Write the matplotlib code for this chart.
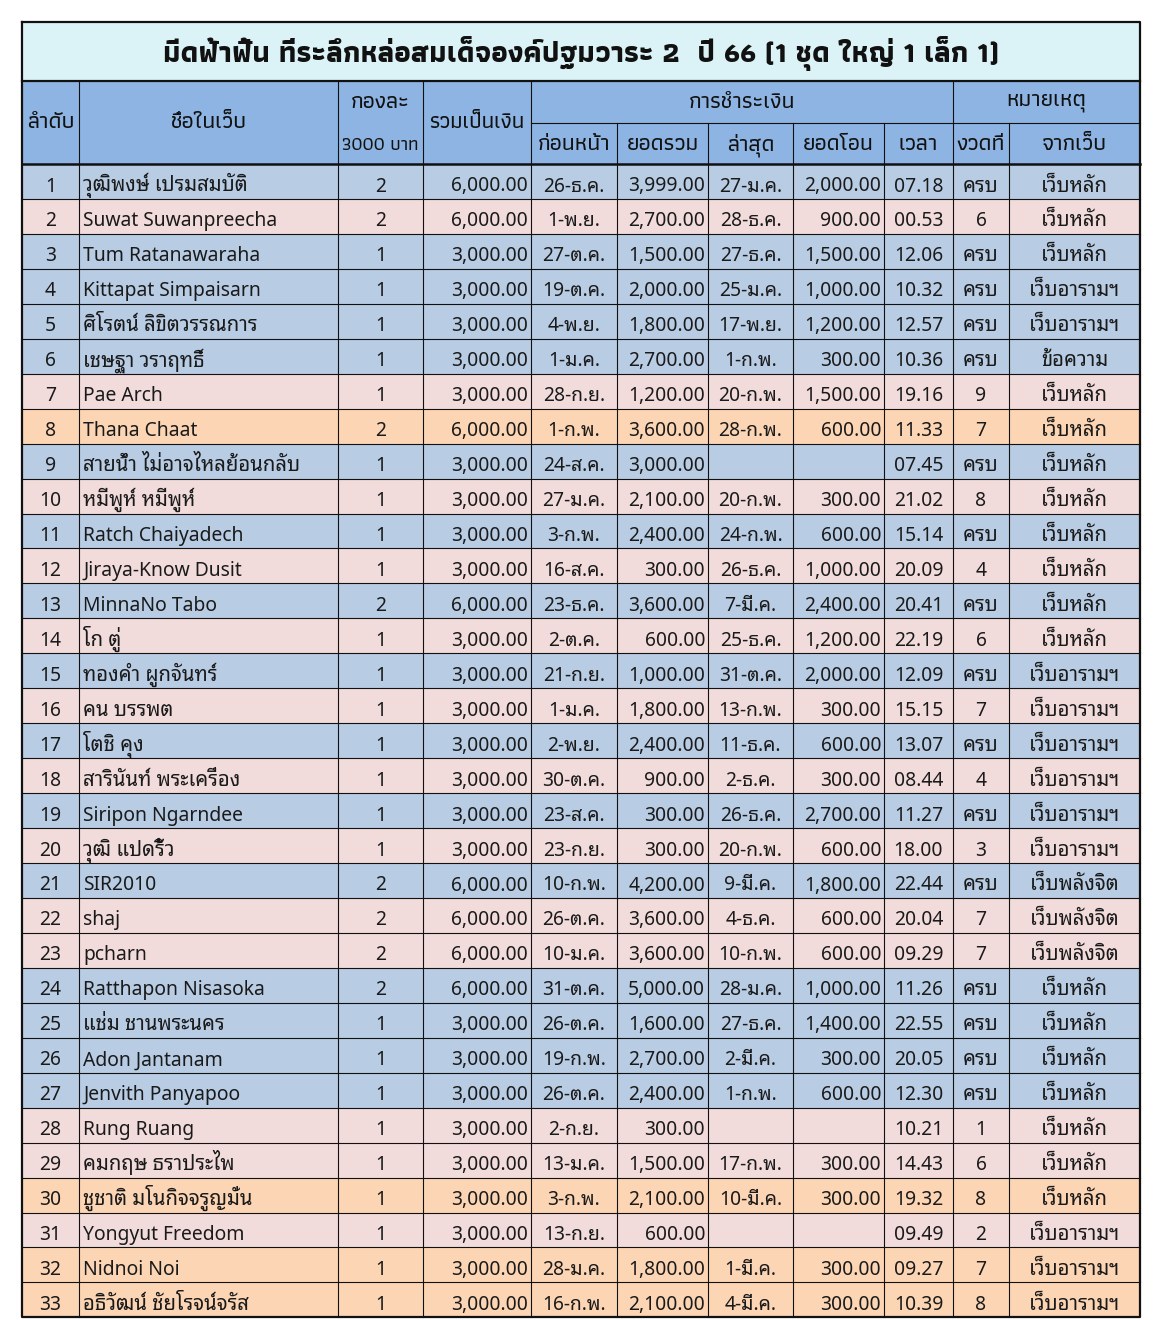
import matplotlib
matplotlib.use("Agg")
import matplotlib.pyplot as plt
from matplotlib.patches import Rectangle

# ---- data ----
title = "มีดฟ้าฟื้น ที่ระลึกหล่อสมเด็จองค์ปฐมวาระ 2  ปี 66 (1 ชุด ใหญ่ 1 เล็ก 1)"

order = list(range(1, 34))
names = ["วุฒิพงษ์ เปรมสมบัติ", "Suwat Suwanpreecha", "Tum Ratanawaraha", "Kittapat Simpaisarn",
         "ศิโรตน์ ลิขิตวรรณการ", "เชษฐา วราฤทธิ์", "Pae Arch", "Thana Chaat",
         "สายน้ำ ไม่อาจไหลย้อนกลับ", "หมีพูห์ หมีพูห์", "Ratch Chaiyadech", "Jiraya-Know Dusit",
         "MinnaNo Tabo", "โก ตู่", "ทองคำ ผูกจันทร์", "คน บรรพต", "โตชิ คุง", "สารินันท์ พระเครื่อง",
         "Siripon Ngarndee", "วุฒิ แปดริ้ว", "SIR2010", "shaj", "pcharn", "Ratthapon Nisasoka",
         "แช่ม ชานพระนคร", "Adon Jantanam", "Jenvith Panyapoo", "Rung Ruang", "คมกฤษ ธราประไพ",
         "ชูชาติ มโนกิจจรูญมั่น", "Yongyut Freedom", "Nidnoi Noi", "อธิวัฒน์ ชัยโรจน์จรัส"]
units = [2, 2, 1, 1, 1, 1, 1, 2, 1, 1, 1, 1, 2, 1, 1, 1, 1, 1, 1, 1, 2, 2, 2, 2, 1, 1, 1, 1, 1, 1, 1, 1, 1]
totals = [6000, 6000, 3000, 3000, 3000, 3000, 3000, 6000, 3000, 3000, 3000, 3000, 6000, 3000, 3000, 3000,
          3000, 3000, 3000, 3000, 6000, 6000, 6000, 6000, 3000, 3000, 3000, 3000, 3000, 3000, 3000, 3000, 3000]
prev_date = ["26-ธ.ค.", "1-พ.ย.", "27-ต.ค.", "19-ต.ค.", "4-พ.ย.", "1-ม.ค.", "28-ก.ย.", "1-ก.พ.",
             "24-ส.ค.", "27-ม.ค.", "3-ก.พ.", "16-ส.ค.", "23-ธ.ค.", "2-ต.ค.", "21-ก.ย.", "1-ม.ค.",
             "2-พ.ย.", "30-ต.ค.", "23-ส.ค.", "23-ก.ย.", "10-ก.พ.", "26-ต.ค.", "10-ม.ค.", "31-ต.ค.",
             "26-ต.ค.", "19-ก.พ.", "26-ต.ค.", "2-ก.ย.", "13-ม.ค.", "3-ก.พ.", "13-ก.ย.", "28-ม.ค.", "16-ก.พ."]
paid_sum = [3999, 2700, 1500, 2000, 1800, 2700, 1200, 3600, 3000, 2100, 2400, 300, 3600, 600, 1000, 1800,
            2400, 900, 300, 300, 4200, 3600, 3600, 5000, 1600, 2700, 2400, 300, 1500, 2100, 600, 1800, 2100]
last_date = ["27-ม.ค.", "28-ธ.ค.", "27-ธ.ค.", "25-ม.ค.", "17-พ.ย.", "1-ก.พ.", "20-ก.พ.", "28-ก.พ.",
             "", "20-ก.พ.", "24-ก.พ.", "26-ธ.ค.", "7-มี.ค.", "25-ธ.ค.", "31-ต.ค.", "13-ก.พ.",
             "11-ธ.ค.", "2-ธ.ค.", "26-ธ.ค.", "20-ก.พ.", "9-มี.ค.", "4-ธ.ค.", "10-ก.พ.", "28-ม.ค.",
             "27-ธ.ค.", "2-มี.ค.", "1-ก.พ.", "", "17-ก.พ.", "10-มี.ค.", "", "1-มี.ค.", "4-มี.ค."]
transfer = [2000, 900, 1500, 1000, 1200, 300, 1500, 600, None, 300, 600, 1000, 2400, 1200, 2000, 300,
            600, 300, 2700, 600, 1800, 600, 600, 1000, 1400, 300, 600, None, 300, 300, None, 300, 300]
pay_time = ["07.18", "00.53", "12.06", "10.32", "12.57", "10.36", "19.16", "11.33", "07.45", "21.02",
            "15.14", "20.09", "20.41", "22.19", "12.09", "15.15", "13.07", "08.44", "11.27", "18.00",
            "22.44", "20.04", "09.29", "11.26", "22.55", "20.05", "12.30", "10.21", "14.43", "19.32",
            "09.49", "09.27", "10.39"]
installment = ["ครบ", "6", "ครบ", "ครบ", "ครบ", "ครบ", "9", "7", "ครบ", "8", "ครบ", "4", "ครบ", "6",
               "ครบ", "7", "ครบ", "4", "ครบ", "3", "ครบ", "7", "7", "ครบ", "ครบ", "ครบ", "ครบ", "1",
               "6", "8", "2", "7", "8"]
source = ["เว็บหลัก", "เว็บหลัก", "เว็บหลัก", "เว็บอารามฯ", "เว็บอารามฯ", "ข้อความ", "เว็บหลัก",
          "เว็บหลัก", "เว็บหลัก", "เว็บหลัก", "เว็บหลัก", "เว็บหลัก", "เว็บหลัก", "เว็บหลัก",
          "เว็บอารามฯ", "เว็บอารามฯ", "เว็บอารามฯ", "เว็บอารามฯ", "เว็บอารามฯ", "เว็บอารามฯ",
          "เว็บพลังจิต", "เว็บพลังจิต", "เว็บพลังจิต", "เว็บหลัก", "เว็บหลัก", "เว็บหลัก", "เว็บหลัก",
          "เว็บหลัก", "เว็บหลัก", "เว็บหลัก", "เว็บอารามฯ", "เว็บอารามฯ", "เว็บอารามฯ"]
highlight = [8, 30, 32, 33]

sub_headers = ["ก่อนหน้า", "ยอดรวม", "ล่าสุด", "ยอดโอน", "เวลา", "งวดที่", "จากเว็บ"]

# ---- layout (pixels) ----
col_x = [22, 79, 338, 423, 531, 617, 708, 793, 884, 953, 1009, 1140]
title_top, head_top, head_mid, body_top = 22, 81, 123, 164
row_h = 34.95

BLUE = "#b8cce4"
PINK = "#f2dcdb"
ORANGE = "#fcd5b4"
HEAD = "#8db4e2"
TITLE_BG = "#dbf3f7"
TXT = "#1a1a1a"

body_font = ["Noto Sans", "Noto Sans Thai Looped", "DejaVu Sans"]
head_font = ["Athiti", "Noto Sans Thai", "DejaVu Sans"]


def has_thai(s):
    return any("\u0e00" <= ch <= "\u0e7f" for ch in s)


fig = plt.figure(figsize=(11.66, 13.2), dpi=100)
ax = fig.add_axes([0, 0, 1, 1])
ax.set_xlim(0, 1166)
ax.set_ylim(1320, 0)
ax.axis("off")

# title band
ax.add_patch(Rectangle((col_x[0], title_top), col_x[-1] - col_x[0], head_top - title_top,
                       facecolor=TITLE_BG, edgecolor="none"))
ax.text((col_x[0] + col_x[-1]) / 2, 54, title, ha="center", va="center",
        fontsize=21, fontweight="bold", family=head_font, color="#111111")

# header band
ax.add_patch(Rectangle((col_x[0], head_top), col_x[-1] - col_x[0], body_top - head_top,
                       facecolor=HEAD, edgecolor="none"))


def head_text(x, y, s, size=16.5):
    ax.text(x, y, s, ha="center", va="center", fontsize=size, fontweight="medium",
            family=head_font, color="#111111")


mid = lambda i: (col_x[i] + col_x[i + 1]) / 2
head_text(mid(0), (head_top + body_top) / 2, "ลำดับ")
head_text(mid(1), (head_top + body_top) / 2, "ชื่อในเว็บ")
head_text(mid(2), 103, "กองละ")
head_text(mid(2), 146, "3000 บาท", size=13.2)
head_text(mid(3), (head_top + body_top) / 2, "รวมเป็นเงิน", size=16)
head_text((col_x[4] + col_x[9]) / 2, 103, "การชำระเงิน")
head_text((col_x[9] + col_x[11]) / 2, 103, "หมายเหตุ")
for i, s in enumerate(sub_headers):
    head_text(mid(4 + i), 145, s)

# body rows
for r in range(len(order)):
    top = body_top + r * row_h
    if order[r] in highlight:
        bg = ORANGE
    elif installment[r] == "ครบ":
        bg = BLUE
    else:
        bg = PINK
    ax.add_patch(Rectangle((col_x[0], top), col_x[-1] - col_x[0], row_h, facecolor=bg, edgecolor="none"))
    base = top + 27.5
    cells = [
        (str(order[r]), "center"),
        (names[r], "left"),
        (str(units[r]), "center"),
        (f"{totals[r]:,.2f}", "right"),
        (prev_date[r], "center"),
        (f"{paid_sum[r]:,.2f}", "right"),
        (last_date[r], "center"),
        ("" if transfer[r] is None else f"{transfer[r]:,.2f}", "right"),
        (pay_time[r], "center"),
        (installment[r], "center"),
        (source[r], "center"),
    ]
    for c, (s, align) in enumerate(cells):
        if not s:
            continue
        if align == "left":
            x = col_x[c] + 4
        elif align == "right":
            x = col_x[c + 1] - 3
        else:
            x = mid(c)
        fs = 14.6 if c in (1, 9, 10) and has_thai(s) else 13.9
        ax.text(x, base, s, ha=align, va="baseline", fontsize=fs, family=body_font, color=TXT)

# grid lines
bottom = body_top + len(order) * row_h
for r in range(1, len(order)):
    y = body_top + r * row_h
    ax.plot([col_x[0], col_x[-1]], [y, y], color="#111111", lw=0.8)
for x in col_x[1:-1]:
    ax.plot([x, x], [body_top, bottom], color="#111111", lw=0.8)
# header internal lines
for x in col_x[1:5]:
    ax.plot([x, x], [head_top, body_top], color="#111111", lw=0.8)
for x in col_x[5:9]:
    ax.plot([x, x], [head_mid, body_top], color="#111111", lw=0.8)
ax.plot([col_x[9], col_x[9]], [head_top, body_top], color="#111111", lw=0.8)
ax.plot([col_x[10], col_x[10]], [head_mid, body_top], color="#111111", lw=0.8)
ax.plot([col_x[4], col_x[-1]], [head_mid, head_mid], color="#111111", lw=0.8)
ax.plot([col_x[0], col_x[-1]], [head_top, head_top], color="#111111", lw=1.6)
ax.plot([col_x[0], col_x[-1]], [body_top, body_top], color="#111111", lw=1.8)
# outer border
ax.plot([col_x[0], col_x[-1], col_x[-1], col_x[0], col_x[0]],
        [title_top, title_top, bottom, bottom, title_top], color="#111111", lw=1.6)

fig.savefig("out.png", dpi=100)
